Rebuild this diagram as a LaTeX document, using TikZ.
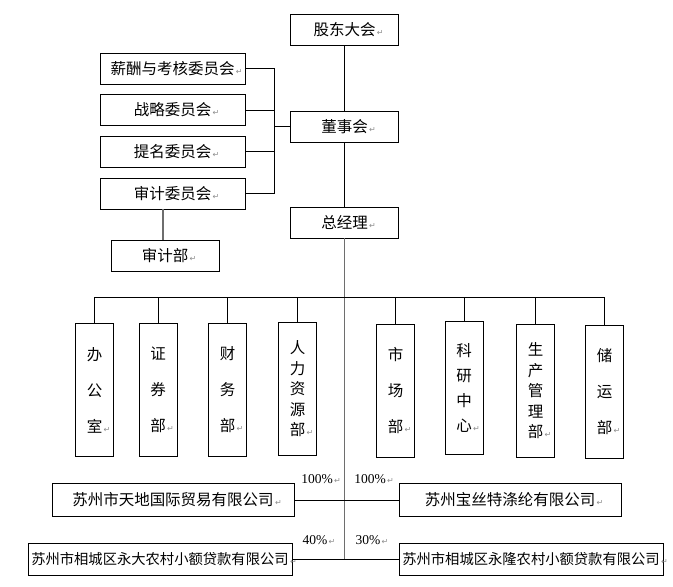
\documentclass[tikz,border=0pt]{standalone}
\usepackage{fontspec}
\newfontfamily\cjk{Noto Sans CJK SC}
\newfontfamily\numfont{Liberation Serif}
\newfontfamily\symfont{DejaVu Sans}
\usepackage{xcolor}
\definecolor{cLine}{HTML}{000000}
\definecolor{cSpine}{HTML}{6E6E6E}
\definecolor{cMark}{HTML}{8C8C8C}
\usetikzlibrary{positioning,calc}
\newcommand\parmk{\rlap{\symfont\fontsize{8}{8}\selectfont\color{cMark}\,↵}}
\tikzset{
  node-box/.style={draw=cLine,line width=0.8pt,inner sep=0pt,minimum height=31pt,
    align=center,font=\cjk\fontsize{15.5}{18}\selectfont},
  node-long/.style={node-box,font=\cjk\fontsize{14.3}{18}\selectfont},
  node-dept/.style={draw=cLine,line width=0.8pt,inner sep=0pt,
    minimum width=38pt,minimum height=133pt,align=center},
  dept-3/.style={node-dept,font=\cjk\fontsize{15.5}{36}\selectfont},
  dept-4/.style={node-dept,font=\cjk\fontsize{15.5}{25}\selectfont},
  dept-5/.style={node-dept,font=\cjk\fontsize{15.5}{20.5}\selectfont},
  link/.style={draw=cLine,line width=0.8pt},
  link-spine/.style={draw=cSpine,line width=1.6pt},
  pct/.style={inner sep=0pt,font=\numfont\fontsize{13.5}{15}\selectfont},
}
\begin{document}
\begin{tikzpicture}[x=1pt,y=-1pt]
  \useasboundingbox (0,0) rectangle (673,587);
  % top levels
  \node[node-box,minimum width=108pt] (gudong)  at (344.5,29.5)  {股东大会\parmk};
  \node[node-box,minimum width=108pt] (dongshi) at (344.5,126.5) {董事会\parmk};
  \node[node-box,minimum width=108pt] (zongjl)  at (344.5,222.5) {总经理\parmk};
  % committees
  \node[node-box,minimum width=145pt] (xinchou)  at (172.5,68.5)  {薪酬与考核委员会\parmk};
  \node[node-box,minimum width=145pt] (zhanlue)  at (172.5,110)   {战略委员会\parmk};
  \node[node-box,minimum width=145pt] (timing)   at (172.5,151.5) {提名委员会\parmk};
  \node[node-box,minimum width=145pt] (shenjiwh) at (172.5,193.5) {审计委员会\parmk};
  \node[node-box,minimum width=108pt] (shenjibu) at (165,255.5)   {审计部\parmk};
  \coordinate (brk) at (274,0);
  \coordinate (bus) at (0,297);
  % departments
  \node[dept-3] (bangong)  at (94.5,390)  {办\\公\\室\parmk};
  \node[dept-3] (zhengquan) at (158,390)  {证\\券\\部\parmk};
  \node[dept-3] (caiwu)    at (227.5,390) {财\\务\\部\parmk};
  \node[dept-5] (renli)    at (297.5,389) {人\\力\\资\\源\\部\parmk};
  \node[dept-3] (shichang) at (395.5,391) {市\\场\\部\parmk};
  \node[dept-4] (keyan)    at (464,388)   {科\\研\\中\\心\parmk};
  \node[dept-5] (shengchan) at (535.5,391) {生\\产\\管\\理\\部\parmk};
  \node[dept-3] (chuyun)   at (604.5,392) {储\\运\\部\parmk};
  % subsidiaries
  \node[node-box,minimum width=242pt,minimum height=33pt] (tiandi)   at (173,500) {苏州市天地国际贸易有限公司\parmk};
  \node[node-box,minimum width=222pt,minimum height=33pt] (baosi)    at (510,500) {苏州宝丝特涤纶有限公司\parmk};
  \node[node-long,minimum width=264pt,minimum height=32pt] (yongda)   at (160,559) {苏州市相城区永大农村小额贷款有限公司\parmk};
  \node[node-long,minimum width=264pt,minimum height=32pt] (yonglong) at (531,559) {苏州市相城区永隆农村小额贷款有限公司\parmk};
  \node[pct] (p1) at (317,479) {100\%\parmk};
  \node[pct] (p2) at (370,479) {100\%\parmk};
  \node[pct] (p3) at (315,540) {40\%\parmk};
  \node[pct] (p4) at (368,540) {30\%\parmk};
  % connectors
  \draw[link] (gudong) -- (dongshi);
  \draw[link] (dongshi) -- (zongjl);
  \draw[link-spine] (zongjl.south) -- (zongjl.south |- yongda.east);
  \draw[link] (xinchou.east) -- (xinchou.east -| brk) -- (shenjiwh.east -| brk) -- (shenjiwh.east);
  \draw[link] (zhanlue.east) -- (zhanlue.east -| brk);
  \draw[link] (timing.east) -- (timing.east -| brk);
  \draw[link] (dongshi.west) -- (dongshi.west -| brk);
  \draw[link-spine,line width=1.2pt] (shenjiwh.south -| shenjibu.north) ++(-2,0) -- ($(shenjibu.north)+(-2,0)$);
  \draw[link] (bangong.north |- bus) -- (chuyun.north |- bus);
  \foreach \d in {bangong,zhengquan,caiwu,renli,shichang,keyan,shengchan,chuyun}
    \draw[link] (\d.north) -- (\d.north |- bus);
  \draw[link] (tiandi.east) -- (baosi.west);
  \draw[link] (yongda.east) -- (yonglong.west);
\end{tikzpicture}
\end{document}
